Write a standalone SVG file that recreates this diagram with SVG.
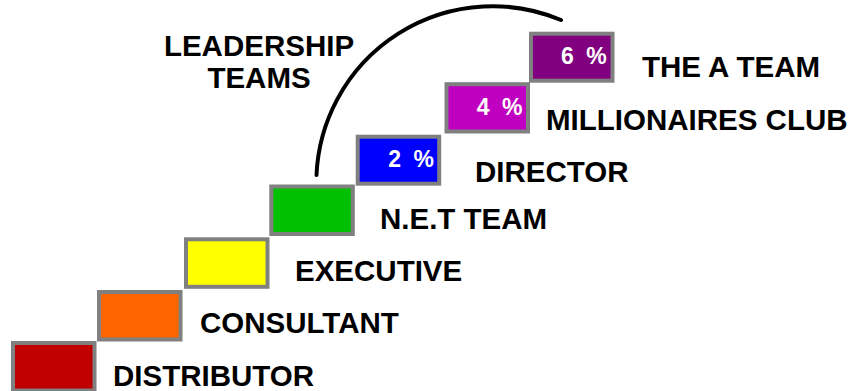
<svg xmlns="http://www.w3.org/2000/svg" width="858" height="391" viewBox="0 0 858 391">
<style>
.box{stroke:#808080;stroke-width:4}
.lbl{font-family:"Liberation Sans",Arial,sans-serif;font-weight:bold;font-size:29.5px;fill:#000}
.pct{font-family:"Liberation Sans",Arial,sans-serif;font-weight:bold;font-size:23px;fill:#fff;text-anchor:end;word-spacing:6px}
.arc{fill:none;stroke:#000;stroke-width:4;stroke-linecap:round}
</style>
<rect width="858" height="391" fill="#fff"/>
<g id="distributor">
<rect class="box" x="13" y="343" width="81.5" height="47.5" fill="#C00000"/>
<text class="lbl" x="113" y="386">DISTRIBUTOR</text>
</g>
<g id="consultant">
<rect class="box" x="99" y="292" width="81.5" height="47.5" fill="#FF6600"/>
<text class="lbl" x="200" y="333">CONSULTANT</text>
</g>
<g id="executive">
<rect class="box" x="186" y="239.3" width="81.5" height="47.5" fill="#FFFF00"/>
<text class="lbl" x="295" y="281">EXECUTIVE</text>
</g>
<g id="net-team">
<rect class="box" x="271.3" y="186.5" width="81.5" height="47.5" fill="#00C000"/>
<text class="lbl" x="380" y="228.5">N.E.T TEAM</text>
</g>
<g id="director">
<rect class="box" x="357.7" y="136.7" width="81.5" height="47" fill="#0000FF"/>
<text class="pct" x="434" y="167.3">2 %</text>
<text class="lbl" x="475" y="182">DIRECTOR</text>
</g>
<g id="millionaires-club">
<rect class="box" x="446.5" y="84.2" width="81.5" height="47.3" fill="#C000C0"/>
<text class="pct" x="522.5" y="115">4 %</text>
<text class="lbl" x="546" y="130">MILLIONAIRES CLUB</text>
</g>
<g id="the-a-team">
<rect class="box" x="531" y="33.7" width="81.5" height="47" fill="#800080"/>
<text class="pct" x="606.7" y="64">6 %</text>
<text class="lbl" x="642" y="77">THE A TEAM</text>
</g>
<g id="leadership-teams">
<text class="lbl" x="259" y="56" text-anchor="middle">LEADERSHIP</text>
<text class="lbl" x="259" y="88.3" text-anchor="middle">TEAMS</text>
</g>
<g id="connectors">
<path class="arc" d="M316.5,175 A176.4,176.4 0 0 1 561,20"/>
</g>
</svg>
